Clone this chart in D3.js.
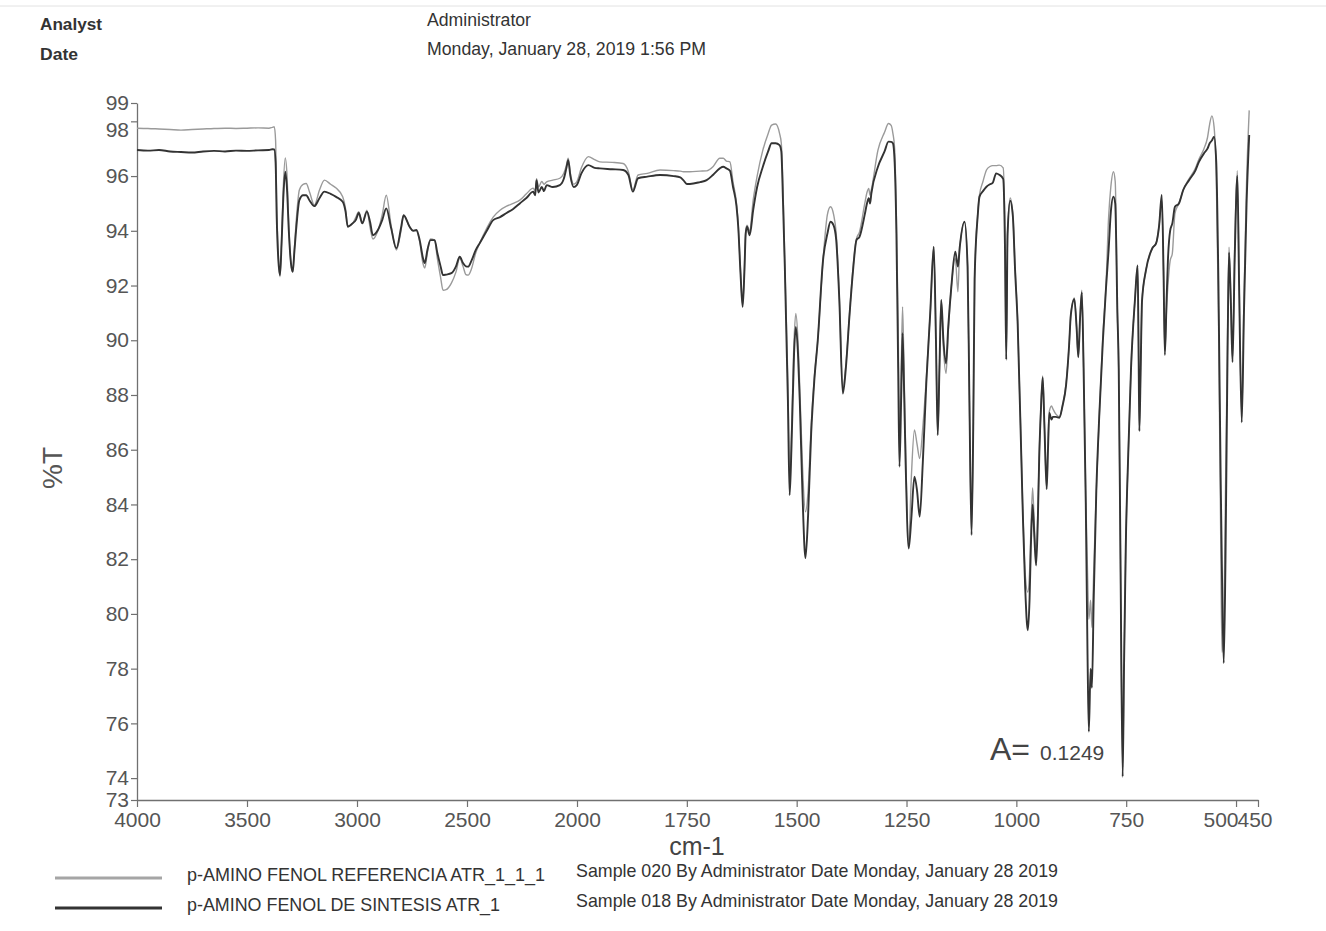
<!DOCTYPE html>
<html>
<head>
<meta charset="utf-8">
<script src="https://cdn.jsdelivr.net/npm/d3@7"></script>
<style>
  html, body { margin: 0; padding: 0; background: #fff; }
  svg text { font-family: "Liberation Sans", Arial, sans-serif; }
</style>
</head>
<body>
<svg id="chart" width="1326" height="931"></svg>
<script>
// FT-IR ATR spectra of p-aminophenol: reference vs synthesised sample (%T vs cm-1)

const wavenumbers = [
  4000, 3950, 3900, 3850, 3800, 3750, 3700, 3650, 3600, 3550, 3500, 3450, 3400, 3385, 3376,
  3370, 3365, 3358, 3350, 3343, 3335, 3326, 3318, 3310, 3300, 3292, 3285, 3275, 3262, 3245, 3231, 3215, 3194,
  3170, 3148, 3120, 3095, 3065, 3052, 3042, 3030, 3019, 3005, 2992, 2976, 2955, 2940, 2928, 2905, 2885, 2867, 2845, 2821, 2800, 2788, 2761, 2745, 2730, 2715, 2700, 2692,
  2680, 2666, 2647, 2635, 2620, 2609, 2595, 2571, 2550, 2533, 2518, 2505, 2495, 2480, 2460, 2442, 2410, 2381, 2350, 2320, 2290, 2260,
  2230, 2199, 2190, 2184, 2175, 2160, 2150, 2138, 2110, 2078, 2060, 2048, 2040, 2030, 2015, 2001,
  1990, 1974, 1960, 1948, 1920, 1895, 1883, 1873, 1861, 1840, 1811, 1780, 1765, 1758, 1750, 1743, 1720, 1705, 1690, 1675, 1667, 1660, 1652,
  1645, 1637, 1633, 1628, 1623, 1619, 1616, 1613, 1607, 1599, 1590, 1577, 1565, 1557, 1548, 1539, 1535,
  1531, 1527, 1520, 1516, 1512, 1506, 1502, 1497, 1493, 1487, 1480, 1474, 1467, 1460, 1452, 1440, 1430, 1423, 1416, 1410, 1403, 1395, 1388, 1380, 1372, 1364, 1357,
  1345, 1340, 1336, 1333, 1330, 1315, 1300, 1291, 1285, 1281, 1277, 1273, 1269, 1266, 1262, 1259, 1256, 1252, 1245, 1239, 1232, 1226, 1220, 1213, 1205,
  1196, 1188, 1183, 1179, 1175, 1171, 1166, 1160, 1155, 1148, 1139, 1133, 1129, 1118, 1111, 1107, 1102, 1098, 1095, 1088, 1084,
  1076, 1068, 1060, 1054, 1046, 1039, 1030, 1026, 1023, 1020, 1014, 1008, 1003, 997,
  986, 980, 974, 970, 967, 963, 959, 955, 951, 948, 944, 940, 936, 931, 928, 925, 920, 917, 910, 902,
  895, 887, 880, 876, 868, 863, 859, 855, 851, 847, 842, 838, 835, 831, 828, 824, 818, 811, 803,
  796, 790, 785, 779, 775, 770, 767, 763, 758, 755, 751, 745, 739, 730, 724, 722, 720, 717, 714, 705,
  690, 682, 675, 669, 665, 662, 658, 655, 650, 645, 639, 630, 620, 607, 592, 585,
  573, 565, 560, 555, 550, 545, 540, 535, 532, 528, 524, 519, 516, 512, 508, 503, 497, 493, 487, 482, 476, 470
];

// p-AMINO FENOL REFERENCIA ATR_1_1_1 (%T)
const referenciaT = [
  97.75, 97.74, 97.72, 97.70, 97.68, 97.70, 97.72, 97.74, 97.75, 97.74, 97.75, 97.76, 97.75, 97.78, 97.80,
  97.30, 95.00, 93.20, 92.32, 93.60, 95.60, 96.66, 96.00, 94.20, 92.80, 92.50, 93.30, 94.50, 95.49, 95.70, 95.73, 95.40, 94.94,
  95.50, 95.85, 95.70, 95.56, 95.24, 94.80, 94.15, 94.20, 94.28, 94.50, 94.70, 94.30, 94.75, 94.10, 93.70, 94.00, 94.60, 95.30, 94.20, 93.30, 94.00, 94.57, 94.15, 94.00, 94.00, 93.60, 92.80, 92.64,
  93.20, 93.70, 93.66, 93.00, 92.30, 91.83, 91.85, 92.09, 92.50, 93.00, 92.70, 92.40, 92.38, 92.60, 93.20, 93.55, 94.10, 94.50, 94.75, 94.90, 95.00, 95.12,
  95.35, 95.56, 95.45, 95.90, 95.60, 95.80, 95.70, 95.79, 95.85, 95.92, 96.10, 96.40, 96.65, 96.10, 95.70, 95.79,
  96.30, 96.71, 96.60, 96.52, 96.50, 96.46, 96.16, 95.49, 96.04, 96.10, 96.22, 96.20, 96.18, 96.16, 96.16, 96.16, 96.18, 96.19, 96.35, 96.65, 96.65, 96.55, 96.52,
  95.80, 95.00, 94.20, 92.60, 91.30, 92.60, 94.00, 94.20, 94.00, 95.12, 96.00, 96.95, 97.55, 97.86, 97.90, 97.56, 97.20,
  95.50, 92.80, 88.50, 84.90, 86.50, 90.00, 90.98, 90.00, 88.30, 85.50, 83.73, 84.50, 86.90, 88.60, 90.00, 92.93, 94.60, 94.88, 94.60, 93.90, 91.60, 88.20, 89.10, 90.90, 92.60, 93.70, 93.96,
  95.00, 95.40, 95.55, 95.30, 95.50, 96.95, 97.60, 97.92, 97.85, 97.56, 97.00, 94.50, 90.50, 86.60, 89.00, 91.22, 89.20, 86.00, 82.58, 85.00, 86.72, 86.20, 85.68, 86.80, 88.60,
  91.00, 93.42, 90.00, 86.60, 89.00, 91.47, 89.70, 88.79, 90.30, 91.95, 93.00, 91.77, 93.30, 94.33, 92.69, 88.00, 82.95, 87.00, 92.24, 94.60, 95.30,
  95.80, 96.22, 96.35, 96.38, 96.38, 96.40, 96.30, 94.00, 89.40, 93.90, 95.20, 94.60, 92.70, 90.70,
  84.20, 81.50, 80.80, 81.50, 83.00, 84.60, 83.20, 82.20, 83.80, 85.80, 87.60, 88.70, 86.90, 84.60, 86.10, 87.40, 87.60, 87.50, 87.30, 87.20,
  87.60, 88.40, 89.80, 90.95, 91.55, 90.50, 89.40, 90.80, 91.83, 89.20, 84.30, 81.50, 79.80, 80.50, 79.50, 81.50, 84.50, 87.30, 90.20,
  92.00, 94.50, 95.60, 96.16, 95.80, 91.00, 88.97, 82.00, 74.40, 78.00, 82.44, 86.00, 88.97, 91.50, 92.73, 90.00, 86.70, 89.00, 91.43, 92.56,
  93.38, 93.54, 94.20, 95.10, 92.50, 89.60, 91.20, 92.00, 92.90, 93.17, 94.64, 95.00, 95.50, 95.90, 96.30, 96.60,
  97.00, 97.40, 97.90, 98.20, 97.80, 96.00, 91.00, 83.00, 78.60, 79.50, 84.50, 90.50, 93.40, 91.60, 89.30, 93.50, 96.20, 92.20, 87.20, 91.50, 95.80, 98.40
];

// p-AMINO FENOL DE SINTESIS ATR_1 (%T)
const sintesisT = [
  96.95, 96.93, 96.95, 96.90, 96.88, 96.86, 96.90, 96.92, 96.90, 96.93, 96.92, 96.94, 96.95, 96.98, 96.97,
  96.50, 94.50, 93.00, 92.38, 93.50, 95.20, 96.16, 95.50, 94.00, 92.80, 92.50, 93.20, 94.20, 95.12, 95.30, 95.30, 95.10, 94.90,
  95.20, 95.43, 95.35, 95.24, 95.06, 94.70, 94.15, 94.20, 94.28, 94.40, 94.65, 94.27, 94.70, 94.30, 93.84, 94.03, 94.40, 94.82, 94.10, 93.36, 94.10, 94.57, 94.15, 94.00, 94.03, 93.66, 93.00, 92.82,
  93.30, 93.66, 93.66, 93.20, 92.70, 92.38, 92.40, 92.45, 92.70, 93.05, 92.82, 92.70, 92.69, 92.90, 93.30, 93.55, 94.00, 94.39, 94.50, 94.65, 94.80, 95.00,
  95.20, 95.43, 95.30, 95.85, 95.40, 95.60, 95.45, 95.67, 95.60, 95.67, 95.90, 96.30, 96.58, 96.00, 95.60, 95.67,
  96.10, 96.40, 96.30, 96.28, 96.25, 96.22, 96.04, 95.43, 95.92, 95.98, 96.04, 96.00, 95.95, 95.85, 95.71, 95.71, 95.78, 95.85, 96.05, 96.28, 96.34, 96.28, 96.20,
  95.61, 94.90, 94.15, 92.50, 91.22, 92.50, 93.90, 94.15, 93.84, 94.76, 95.60, 96.34, 96.90, 97.20, 97.20, 97.13, 96.90,
  95.00, 92.69, 87.81, 84.34, 86.00, 89.50, 90.49, 89.50, 87.81, 84.50, 82.04, 83.60, 86.60, 88.50, 90.00, 92.93, 93.90, 94.33, 94.20, 93.66, 91.50, 88.05, 89.00, 90.86, 92.50, 93.66, 93.78,
  94.60, 95.00, 95.19, 95.00, 95.37, 96.34, 96.90, 97.26, 97.25, 97.20, 96.50, 93.90, 89.00, 85.38, 88.00, 90.26, 88.50, 85.50, 82.39, 83.50, 85.01, 84.50, 83.55, 85.50, 88.42,
  91.00, 93.42, 90.00, 86.53, 89.00, 91.47, 90.00, 89.15, 90.50, 91.95, 93.24, 92.69, 93.38, 94.33, 92.69, 88.00, 82.88, 87.00, 92.24, 94.54, 95.24,
  95.45, 95.61, 95.70, 95.75, 96.10, 96.05, 95.90, 93.50, 89.29, 93.88, 95.10, 94.54, 92.60, 90.60,
  84.06, 81.00, 79.40, 80.50, 82.44, 84.00, 82.80, 81.77, 83.50, 85.70, 87.50, 88.64, 86.80, 84.56, 86.00, 87.34, 87.10, 87.20, 87.20, 87.17,
  87.60, 88.33, 89.80, 90.93, 91.50, 90.50, 89.38, 90.80, 91.75, 89.00, 84.06, 78.50, 75.70, 78.00, 77.30, 80.50, 84.50, 87.34, 90.00,
  91.90, 93.30, 94.68, 95.25, 95.00, 91.00, 88.97, 82.00, 74.05, 78.00, 82.44, 86.00, 88.97, 91.50, 92.73, 90.00, 86.68, 89.00, 91.43, 92.56,
  93.38, 93.54, 94.20, 95.31, 92.50, 89.46, 91.50, 92.93, 94.00, 94.27, 94.88, 95.00, 95.50, 95.85, 96.22, 96.50,
  96.83, 97.00, 97.20, 97.30, 97.44, 96.50, 92.00, 85.00, 81.50, 78.20, 82.00, 90.00, 93.20, 91.50, 89.20, 93.00, 96.00, 92.00, 87.00, 91.00, 95.00, 97.50
];

// Axis extents and ticks
const xBreaks = [4000, 2000, 450];           // scale changes at 2000 cm-1
const xTickValues = [4000, 3500, 3000, 2500, 2000, 1750, 1500, 1250, 1000, 750, 500, 450];
const yExtent = [73.2, 98.67];
const yTickValues = [73.2, 74, 76, 78, 80, 82, 84, 86, 88, 90, 92, 94, 96, 98, 98.67];

const seriesNames = ["p-AMINO FENOL REFERENCIA ATR_1_1_1", "p-AMINO FENOL DE SINTESIS ATR_1"];
const sampleNotes = [
  "Sample 020 By Administrator Date Monday, January 28 2019",
  "Sample 018 By Administrator Date Monday, January 28 2019"
];
const headerLabels = ["Analyst", "Date"];
const headerValues = ["Administrator", "Monday, January 28, 2019 1:56 PM"];
const annotation = ["A=", "0.1249"];

const svg = d3.select("#chart");

const x = d3.scaleLinear().domain(xBreaks).range([137, 577, 1258]);
const y = d3.scaleLinear().domain(yExtent).range([800, 103]);

// faint page border at the top
svg.append("line")
  .attr("x1", 0).attr("x2", 1326).attr("y1", 6).attr("y2", 6)
  .attr("stroke", "#e2e2e2").attr("stroke-width", 1);

// header block
const header = svg.append("g").attr("fill", "#333");
header.append("text").attr("x", 40).attr("y", 30).attr("font-size", 17).attr("font-weight", "bold")
  .attr("textLength", 62).attr("lengthAdjust", "spacingAndGlyphs").text(headerLabels[0]);
header.append("text").attr("x", 40).attr("y", 60).attr("font-size", 17).attr("font-weight", "bold")
  .attr("textLength", 38).attr("lengthAdjust", "spacingAndGlyphs").text(headerLabels[1]);
header.append("text").attr("x", 427).attr("y", 26).attr("font-size", 17.5)
  .attr("textLength", 104).attr("lengthAdjust", "spacingAndGlyphs").text(headerValues[0]);
header.append("text").attr("x", 427).attr("y", 55).attr("font-size", 17.5)
  .attr("textLength", 279).attr("lengthAdjust", "spacingAndGlyphs").text(headerValues[1]);

// axes
const yAxis = d3.axisLeft(y).tickValues(yTickValues).tickSize(6).tickSizeOuter(0).tickPadding(2)
  .tickFormat(d => String(Math.round(d)));
const xAxis = d3.axisBottom(x).tickValues(xTickValues).tickSize(7).tickSizeOuter(0).tickPadding(5)
  .tickFormat(d3.format("d"));

const gy = svg.append("g").attr("transform", "translate(137,0)").call(yAxis);
const gx = svg.append("g").attr("transform", "translate(0,800)").call(xAxis);

[gx, gy].forEach(g => {
  g.select(".domain").attr("stroke", "#707070").attr("stroke-width", 1.3);
  g.selectAll(".tick line").attr("stroke", "#707070").attr("stroke-width", 1.2);
  g.selectAll(".tick text").attr("fill", "#555").attr("font-size", 21)
    .attr("font-family", "'Liberation Sans', Arial, sans-serif");
});

// keep crowded end labels apart
gy.selectAll(".tick text").filter(d => d === 98).attr("dy", "0.7em");
gx.selectAll(".tick text").filter(d => d === 500).attr("text-anchor", "end").attr("dx", 2);
gx.selectAll(".tick text").filter(d => d === 450).attr("text-anchor", "start").attr("dx", -21);

// axis titles
svg.append("text")
  .attr("transform", "translate(62,468) rotate(-90)")
  .attr("text-anchor", "middle").attr("font-size", 28).attr("fill", "#555")
  .text("%T");
svg.append("text")
  .attr("x", 697).attr("y", 854.5).attr("text-anchor", "middle")
  .attr("font-size", 25).attr("fill", "#444")
  .text("cm-1");

// spectra
const line = d3.line()
  .x(d => x(d[0]))
  .y(d => y(d[1]))
  .curve(d3.curveMonotoneX);

const refPoints = wavenumbers.map((w, i) => [w, referenciaT[i]]);
const synPoints = wavenumbers.map((w, i) => [w, sintesisT[i]]);

svg.append("path").datum(refPoints)
  .attr("d", line).attr("fill", "none")
  .attr("stroke", "#9a9a9a").attr("stroke-width", 1.4).attr("stroke-linejoin", "round");
svg.append("path").datum(synPoints)
  .attr("d", line).attr("fill", "none")
  .attr("stroke", "#333").attr("stroke-width", 1.9).attr("stroke-linejoin", "round");

// handwritten absorbance note
const note = svg.append("text").attr("x", 990).attr("y", 760)
  .attr("font-family", "'DejaVu Sans', sans-serif").attr("font-weight", 200)
  .attr("fill", "#444");
note.append("tspan").attr("font-size", 32).text(annotation[0]);
note.append("tspan").attr("font-size", 21).attr("dx", 10).text(annotation[1]);

// legend
const legendColors = ["#a5a5a5", "#333"];
const legendWidths = [3, 3];
const legendY = [878, 908];
const nameLengths = [358, 313];
seriesNames.forEach((name, i) => {
  svg.append("line")
    .attr("x1", 55).attr("x2", 162).attr("y1", legendY[i]).attr("y2", legendY[i])
    .attr("stroke", legendColors[i]).attr("stroke-width", legendWidths[i]);
  svg.append("text")
    .attr("x", 187).attr("y", legendY[i] + 3).attr("font-size", 19).attr("fill", "#333")
    .attr("textLength", nameLengths[i]).attr("lengthAdjust", "spacingAndGlyphs")
    .text(name);
  svg.append("text")
    .attr("x", 576).attr("y", legendY[i] - 1).attr("font-size", 18.5).attr("fill", "#333")
    .attr("textLength", 482).attr("lengthAdjust", "spacingAndGlyphs")
    .text(sampleNotes[i]);
});
</script>
</body>
</html>
